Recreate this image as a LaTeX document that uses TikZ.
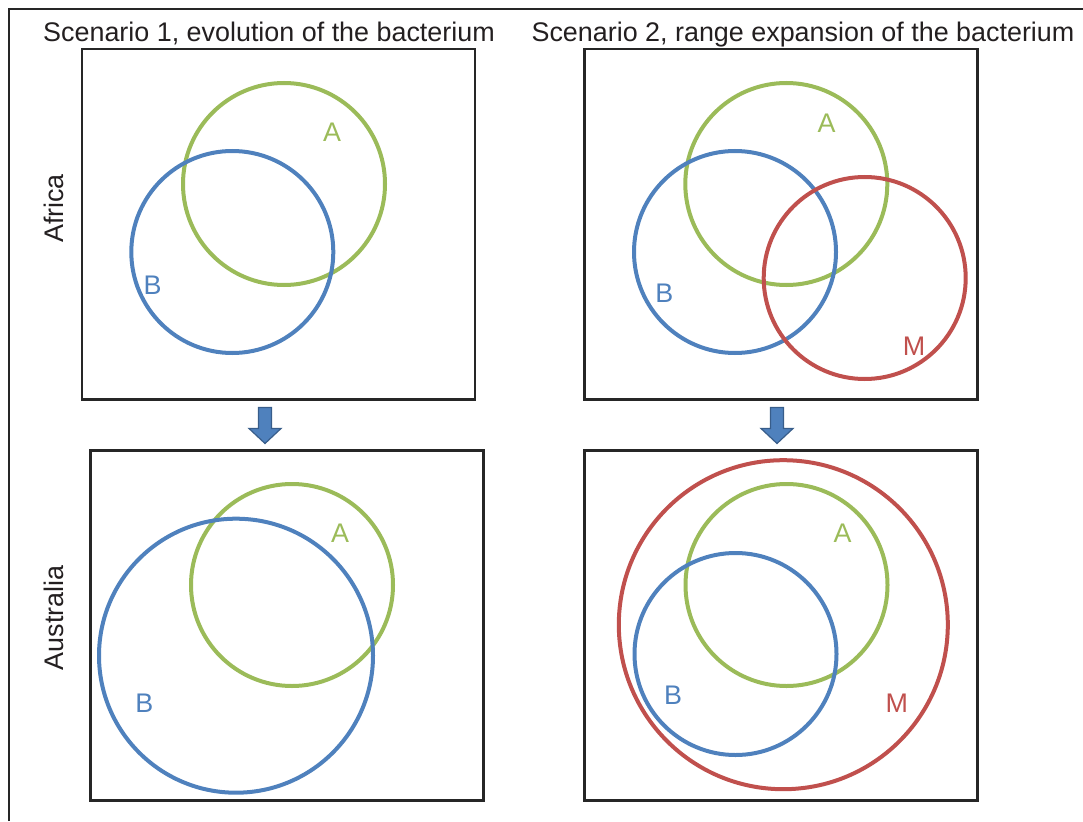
\documentclass[tikz,border=0pt]{standalone}
\usepackage{fontspec}
\setmainfont{Liberation Sans}
\usetikzlibrary{calc}
\definecolor{cA}{HTML}{9BBB59}
\definecolor{cB}{HTML}{4F81BD}
\definecolor{cM}{HTML}{C0504D}
\definecolor{boxc}{HTML}{262626}
\definecolor{txt}{HTML}{231F20}
\definecolor{arrf}{HTML}{4F81BD}
\definecolor{arrd}{HTML}{385D8A}
\begin{document}
\begin{tikzpicture}[x=1pt,y=-1pt,
  panel/.style={draw=boxc, line width=2.6pt, minimum width=393pt, minimum height=350pt, inner sep=0pt, outer sep=0pt},
  ring/.style={line width=4pt},
  lbl/.style={inner sep=0pt, font=\fontsize{26.9}{32}\selectfont},
  ttl/.style={inner sep=0pt, font=\fontsize{26.9}{32}\selectfont, text=txt, anchor=base},
  down/.style={fill=arrf, draw=arrd, line width=1.2pt, line join=miter}]
\useasboundingbox (0,0) rectangle (1083,821);
% outer frame (cropped)
\draw[boxc, line width=1.6pt] (9,821) -- (9,9) -- (1083,9);
% titles
\node[ttl] (t1) at (269,41.7) {Scenario 1, evolution of the bacterium};
\node[ttl] (t2) at (803,41.7) {Scenario 2, range expansion of the bacterium};
% row labels
\node[lbl, rotate=90, text=txt] (af) at (54,208.5) {Africa};
\node[lbl, rotate=90, text=txt] (au) at (54,618) {Australia};
% panels
\node[panel] (tl) at (278.5,224.2) {};
\node[panel] (tr) at (780.8,224.2) {};
\node[panel] (bl) at (287,625.7) {};
\node[panel] (br) at (780.8,625.7) {};
% top-left circles
\draw[ring, cA] (284,184) circle[radius=101pt];
\draw[ring, cB] (232.3,252) circle[radius=101pt];
\node[lbl, text=cA] (tlA) at (332,132) {A};
\node[lbl, text=cB] (tlB) at (152.7,285.7) {B};
% top-right circles
\draw[ring, cA] (786.3,184) circle[radius=101pt];
\draw[ring, cB] (735,252) circle[radius=101pt];
\draw[ring, cM] (864.7,278) circle[radius=101pt];
\node[lbl, text=cA] (trA) at (826.7,123.3) {A};
\node[lbl, text=cB] (trB) at (664.3,293.3) {B};
\node[lbl, text=cM] (trM) at (914,346) {M};
% bottom-left circles
\draw[ring, cA] (292,585) circle[radius=101pt];
\draw[ring, cB] (236,655.7) circle[radius=137pt];
\node[lbl, text=cA] (blA) at (340,533) {A};
\node[lbl, text=cB] (blB) at (144.3,703) {B};
% bottom-right circles
\draw[ring, cM] (783.3,624.7) circle[radius=164.5pt];
\draw[ring, cA] (786.5,585) circle[radius=101pt];
\draw[ring, cB] (735.5,654) circle[radius=101pt];
\node[lbl, text=cA] (brA) at (842.7,533) {A};
\node[lbl, text=cB] (brB) at (673,695.7) {B};
\node[lbl, text=cM] (brM) at (896.7,703) {M};
% arrows
\coordinate (a1) at (265,407.5);
\coordinate (a2) at (777,407.5);
\foreach \c in {a1,a2}{
  \draw[down] ($(\c)+(-6.5,0)$) -- ($(\c)+(-6.5,21)$) -- ($(\c)+(-16,21)$) -- ($(\c)+(0,36)$)
    -- ($(\c)+(16,21)$) -- ($(\c)+(6.5,21)$) -- ($(\c)+(6.5,0)$) -- cycle;
}
\end{tikzpicture}
\end{document}
